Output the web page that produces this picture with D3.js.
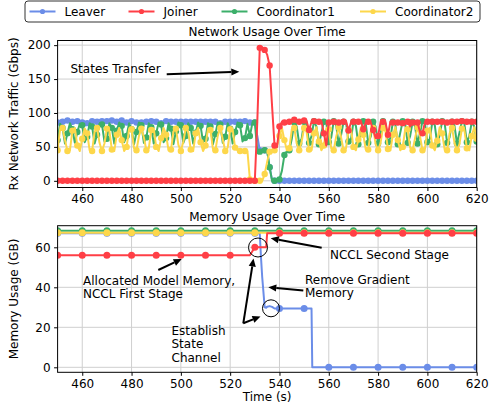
<!DOCTYPE html>
<html><head><meta charset="utf-8">
<script src="https://cdn.jsdelivr.net/npm/d3@7"></script>
<style>
body{margin:0;background:#fff;}
svg{display:block;font-family:"DejaVu Sans",sans-serif;}
</style></head>
<body>
<svg id="c" width="499" height="406"></svg>
<script>
// ---------------- DATA ----------------
const seriesNames = ["Leaver", "Joiner", "Coordinator1", "Coordinator2"];
const seriesColors = ["#6b8de8", "#ff3f46", "#3caf6a", "#fdd74b"];

// network samples every 1 s, from 450 s to 620 s
const netStart = 450, netEnd = 620;
const netLeaver = [
  86,85,87,86,89,88,87,87,88,83,
  86,87,85,87,88,88,87,89,88,87,
  88,87,89,88,87,90,89,87,86,89,
  88,87,86,84,86,87,87,88,88,87,
  87,86,85,87,88,87,87,86,87,88,
  87,86,87,85,87,88,87,86,87,84,
  87,88,87,86,87,87,85,86,87,88,
  87,86,87,88,87,87,88,87,86,87,
  86,66,45,44,45,44,20,1,0,0,
  0,0,0,0,0,0,0,0,0,0,
  0,0,0,0,0,0,0,0,0,0,
  0,0,0,0,0,0,0,0,0,0,
  0,0,0,0,0,0,0,0,0,0,
  0,0,0,0,0,0,0,0,0,0,
  0,0,0,0,0,0,0,0,0,0,
  0,0,0,0,0,0,0,0,0,0,
  0,0,0,0,0,0,0,0,0,0,
  0
];
const netJoiner = [
  0,0,0,0,0,0,0,0,0,0,
  0,0,0,0,0,0,0,0,0,0,
  0,0,0,0,0,0,0,0,0,0,
  0,0,0,0,0,0,0,0,0,0,
  0,0,0,0,0,0,0,0,0,0,
  0,0,0,0,0,0,0,0,0,0,
  0,0,0,0,0,0,0,0,0,0,
  0,0,0,0,0,0,0,0,0,0,
  0,87,196,197,193,186,170,110,52,50,
  80,87,86,88,87,89,90,88,87,89,
  89,88,75,87,88,86,87,88,70,52,
  86,88,87,88,86,88,87,88,74,86,
  87,88,87,88,76,86,87,86,75,63,
  66,86,87,86,68,87,86,87,86,87,
  85,86,87,80,86,87,86,72,70,86,
  87,86,87,88,87,86,87,87,86,88,
  87,86,87,87,88,86,87,86,87,88,
  87
];
const netCoord1 = [
  60,84,78,55,70,85,76,56,72,84,
  82,57,65,85,80,55,68,84,83,58,
  62,85,78,55,74,86,81,57,66,85,
  76,54,72,86,82,56,64,85,79,55,
  70,86,83,57,63,85,77,54,73,86,
  82,56,66,85,78,55,71,86,81,57,
  62,85,80,54,69,86,83,56,65,85,
  77,55,72,86,82,58,63,84,66,85,
  86,44,43,44,45,44,20,0,0,0,
  2,15,38,44,45,62,86,80,55,62,
  87,84,56,66,88,80,54,70,87,85,
  57,64,88,82,55,68,87,86,58,61,
  87,81,54,72,88,84,56,65,87,80,
  55,69,88,85,57,63,87,83,54,71,
  88,84,56,66,87,80,55,70,88,85,
  57,62,87,82,54,68,88,85,56,64,
  87,81,55,71,88,84,57,66,87,80,
  58
];
const netCoord2 = [
  45,76,78,60,44,45,74,78,52,44,
  62,77,70,45,44,72,78,56,44,55,
  77,74,46,44,68,78,60,44,50,76,
  76,48,45,66,77,64,45,48,75,77,
  50,44,63,78,68,45,46,73,77,53,
  44,58,78,72,46,44,70,78,57,44,
  52,77,75,47,45,67,78,61,44,49,
  76,76,49,45,44,44,44,44,2,0,
  0,0,0,0,10,28,43,44,45,50,
  66,78,60,45,48,76,78,55,45,58,
  78,72,46,45,70,79,58,45,52,77,
  76,48,45,65,79,64,45,48,75,77,
  50,45,61,79,68,46,46,72,78,54,
  45,56,78,73,47,45,68,79,60,45,
  50,76,76,49,45,63,79,66,45,47,
  74,78,52,45,59,79,70,46,45,70,
  78,56,45,54,77,75,48,45,66,79,
  62
];

// memory samples (irregular times)
const memTime    = [450,460,470,480,490,500,510,520,528,530,531,532,532.5,533,534,534.6,535,536,537,538,540,550,553,553.3,560,570,580,590,600,610,620];
const memLeaver  = [67,67,67,67,67,67,67,67,67,67,67,67,55,45,30,29.8,30.3,30.6,30.2,29.4,29.4,29.4,29.4,0,0,0,0,0,0,0,0];
const memJoiner  = [56,56,56,56,56,56,56,56,56,60,60,60,60,60,60,60,67,67,67,67,67,67,67,67,67,67,67,67,67,67,67];
const memCoord1  = [68.3,68.3,68.3,68.3,68.3,68.3,68.3,68.3,68.3,68.3,68.3,68.3,68.3,68.3,68.3,68.3,68.3,68.3,68.3,68.3,68.3,68.3,68.3,68.3,68.3,68.3,68.3,68.3,68.3,68.3,68.3];
const memCoord2  = [67.3,67.3,67.3,67.3,67.3,67.3,67.3,67.3,67.3,67.3,67.3,67.3,67.3,67.3,67.3,67.3,67.3,67.3,67.3,67.3,67.3,67.3,67.3,67.3,67.3,67.3,67.3,67.3,67.3,67.3,67.3];

const xTicks = [460,480,500,520,540,560,580,600,620];
const netYTicks = [0,50,100,150,200];
const memYTicks = [0,20,40,60];

// ---------------- DRAW ----------------
const svg = d3.select("#c");
const x0 = 57.6, x1 = 476.7;
const FS = 12;

const netTime = d3.range(netStart, netEnd + 1, 1);
const netSeries = [netLeaver, netJoiner, netCoord1, netCoord2];
const memSeries = [memLeaver, memJoiner, memCoord1, memCoord2];
const drawOrder = [0, 2, 3, 1];

function panel(top, bottom, yDomain, yTicks, title, ylabel, showXLabel) {
  const x = d3.scaleLinear().domain([450, 620]).range([x0, x1]);
  const y = d3.scaleLinear().domain(yDomain).range([bottom, top]);
  const g = svg.append("g");
  g.append("g").selectAll("line").data(xTicks).join("line")
    .attr("x1", d => x(d)).attr("x2", d => x(d)).attr("y1", top).attr("y2", bottom)
    .attr("stroke", "#cfcfcf").attr("stroke-width", 1);
  g.append("g").selectAll("line").data(yTicks).join("line")
    .attr("y1", d => y(d)).attr("y2", d => y(d)).attr("x1", x0).attr("x2", x1)
    .attr("stroke", "#cfcfcf").attr("stroke-width", 1);
  const xa = g.append("g").attr("transform", `translate(0,${bottom})`)
    .call(d3.axisBottom(x).tickValues(xTicks).tickSize(3.5).tickPadding(3.5).tickFormat(d3.format("d")));
  const ya = g.append("g").attr("transform", `translate(${x0},0)`)
    .call(d3.axisLeft(y).tickValues(yTicks).tickSize(3.5).tickPadding(3.5).tickFormat(d3.format("d")));
  [xa, ya].forEach(a => {
    a.select(".domain").remove();
    a.selectAll("text").attr("font-size", FS).attr("fill", "#000").attr("font-family", "DejaVu Sans");
    a.selectAll("line").attr("stroke", "#000");
  });
  g.append("text").attr("x", (x0 + x1) / 2).attr("y", top - 4.5).attr("text-anchor", "middle")
    .attr("font-size", FS).text(title);
  g.append("text").attr("transform", `translate(18,${(top + bottom) / 2}) rotate(-90)`)
    .attr("text-anchor", "middle").attr("font-size", FS).text(ylabel);
  if (showXLabel) {
    g.append("text").attr("x", (x0 + x1) / 2).attr("y", bottom + 29).attr("text-anchor", "middle")
      .attr("font-size", FS).text("Time (s)");
  }
  const clipId = "clip" + Math.round(top);
  svg.append("clipPath").attr("id", clipId).append("rect")
    .attr("x", x0).attr("y", top).attr("width", x1 - x0).attr("height", bottom - top);
  const plot = g.append("g").attr("clip-path", `url(#${clipId})`);
  return {x, y, g, plot, top, bottom};
}

const P1 = panel(40.5, 187.5, [-9.85, 206.85], netYTicks, "Network Usage Over Time", "Rx Network Traffic (Gbps)", false);
const P2 = panel(225.7, 372.3, [-2.5, 70.8], memYTicks, "Memory Usage Over Time", "Memory Usage (GB)", true);

drawOrder.forEach(si => {
  const vals = netSeries[si];
  const pts = netTime.map((t, i) => [t, vals[i]]);
  const line = d3.line().x(d => P1.x(d[0])).y(d => P1.y(d[1]));
  const sg = P1.plot.append("g");
  sg.append("path").attr("d", line(pts)).attr("fill", "none")
    .attr("stroke", seriesColors[si]).attr("stroke-width", 2).attr("stroke-linejoin", "round");
  sg.selectAll("circle").data(pts.filter((d, i) => i % 2 === 0)).join("circle")
    .attr("cx", d => P1.x(d[0])).attr("cy", d => P1.y(d[1])).attr("r", 3.2)
    .attr("fill", seriesColors[si]);
});

drawOrder.forEach(si => {
  const vals = memSeries[si];
  const pts = memTime.map((t, i) => [t, vals[i]]);
  const line = d3.line().x(d => P2.x(d[0])).y(d => P2.y(d[1]));
  const sg = P2.plot.append("g");
  sg.append("path").attr("d", line(pts)).attr("fill", "none")
    .attr("stroke", seriesColors[si]).attr("stroke-width", 2).attr("stroke-linejoin", "round");
  sg.selectAll("circle").data(pts.filter(d => d[0] % 10 === 0)).join("circle")
    .attr("cx", d => P2.x(d[0])).attr("cy", d => P2.y(d[1])).attr("r", 3.5)
    .attr("fill", seriesColors[si]);
});

[P1, P2].forEach(P => {
  P.g.append("rect").attr("x", x0).attr("y", P.top).attr("width", x1 - x0).attr("height", P.bottom - P.top)
    .attr("fill", "none").attr("stroke", "#000").attr("stroke-width", 1);
});

function arrow(xs, ys, xe, ye) {
  const dx = xe - xs, dy = ye - ys, L = Math.hypot(dx, dy);
  const ux = dx / L, uy = dy / L, hl = 8, hw = 3.6;
  const bx = xe - ux * hl, by = ye - uy * hl;
  svg.append("line").attr("x1", xs).attr("y1", ys).attr("x2", bx).attr("y2", by)
    .attr("stroke", "#000").attr("stroke-width", 2);
  svg.append("path").attr("d", `M${xe},${ye}L${bx - uy * hw},${by + ux * hw}L${bx + uy * hw},${by - ux * hw}Z`)
    .attr("fill", "#000");
}
function label(x, y, lines) {
  const t = svg.append("text").attr("font-size", FS).attr("x", x).attr("y", y);
  lines.forEach((s, i) => t.append("tspan").attr("x", x).attr("dy", i === 0 ? 0 : 13.6).text(s));
}
label(70.5, 72.5, ["States Transfer"]);
arrow(166.7, 74.3, 239.3, 71.7);

label(83, 284.5, ["Allocated Model Memory,", "NCCL First Stage"]);
arrow(158.3, 270, 181.7, 259);

label(171.5, 334.5, ["Establish", "State", "Channel"]);
arrow(243.3, 323.3, 253.5, 258.5);
arrow(243.3, 323.3, 260.5, 316.5);

label(330, 258.5, ["NCCL Second Stage"]);
arrow(321.7, 247.7, 270.7, 238.3);

label(305, 283.5, ["Remove Gradient", "Memory"]);
arrow(303.3, 290.5, 268.3, 287.3);

svg.append("circle").attr("cx", 258).attr("cy", 247.5).attr("r", 9.5).attr("fill", "none").attr("stroke", "#000").attr("stroke-width", 1);
svg.append("circle").attr("cx", 271).attr("cy", 308.3).attr("r", 8.5).attr("fill", "none").attr("stroke", "#000").attr("stroke-width", 1);

const lg = svg.append("g");
lg.append("rect").attr("x", 25).attr("y", 1).attr("width", 455).attr("height", 21).attr("rx", 3)
  .attr("fill", "#fff").attr("stroke", "#333").attr("stroke-width", 1);
const legX = [29.5, 128.5, 221.5, 360];
seriesNames.forEach((n, i) => {
  const lx = legX[i];
  lg.append("line").attr("x1", lx).attr("x2", lx + 26).attr("y1", 11.5).attr("y2", 11.5)
    .attr("stroke", seriesColors[i]).attr("stroke-width", 2);
  lg.append("circle").attr("cx", lx + 13).attr("cy", 11.5).attr("r", 2.6).attr("fill", seriesColors[i]);
  lg.append("text").attr("x", lx + 35).attr("y", 15.8).attr("font-size", FS).text(n);
});
</script>
</body></html>
